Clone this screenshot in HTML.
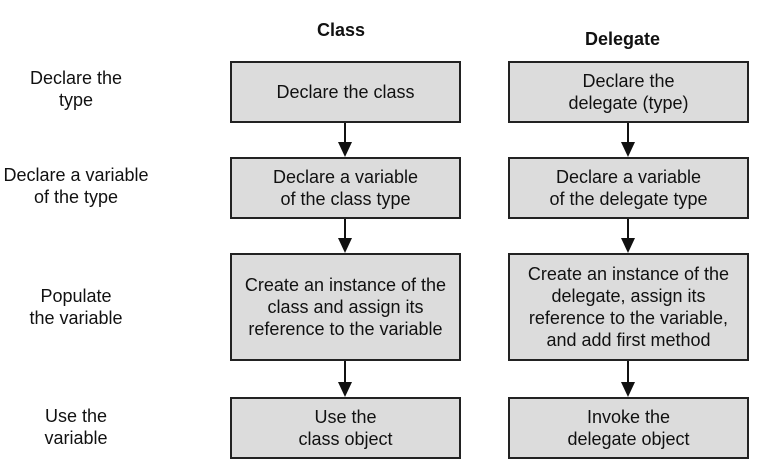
<!DOCTYPE html>
<html><head><style>
body{margin:0;width:764px;height:475px;background:#fff;position:relative;font-family:"Liberation Sans",Arial,sans-serif;color:#111;overflow:hidden}
.b{position:absolute;background:#dcdcdc;border:2px solid #222;box-sizing:border-box;display:flex;align-items:center;justify-content:center;text-align:center;font-size:18px;line-height:22px}
.l{position:absolute;width:200px;text-align:center;font-size:18px;line-height:22px;left:-24px}
.h{position:absolute;font-weight:bold;font-size:18px}
</style></head><body>
<div class="h" style="left:317px;top:20px">Class</div>
<div class="h" style="left:585px;top:29px">Delegate</div>
<div class="l" style="top:67px">Declare the<br>type</div>
<div class="l" style="top:164px">Declare a variable<br>of the type</div>
<div class="l" style="top:285px">Populate<br>the variable</div>
<div class="l" style="top:405px">Use the<br>variable</div>
<div class="b" style="left:230px;top:61px;width:231px;height:62px">Declare the class</div>
<div class="b" style="left:230px;top:157px;width:231px;height:62px">Declare a variable<br>of the class type</div>
<div class="b" style="left:230px;top:253px;width:231px;height:108px">Create an instance of the<br>class and assign its<br>reference to the variable</div>
<div class="b" style="left:230px;top:397px;width:231px;height:62px">Use the<br>class object</div>
<div class="b" style="left:508px;top:61px;width:241px;height:62px">Declare the<br>delegate (type)</div>
<div class="b" style="left:508px;top:157px;width:241px;height:62px">Declare a variable<br>of the delegate type</div>
<div class="b" style="left:508px;top:253px;width:241px;height:108px">Create an instance of the<br>delegate, assign its<br>reference to the variable,<br>and add first method</div>
<div class="b" style="left:508px;top:397px;width:241px;height:62px">Invoke the<br>delegate object</div>
<svg width="764" height="475" style="position:absolute;left:0;top:0">
<g stroke="#111" stroke-width="2">
<line x1="345" y1="123" x2="345" y2="148"/><line x1="345" y1="219" x2="345" y2="244"/><line x1="345" y1="361" x2="345" y2="388"/>
<line x1="628" y1="123" x2="628" y2="148"/><line x1="628" y1="219" x2="628" y2="244"/><line x1="628" y1="361" x2="628" y2="388"/>
</g>
<g fill="#111">
<polygon points="338,142 352,142 345,157"/><polygon points="338,238 352,238 345,253"/><polygon points="338,382 352,382 345,397"/>
<polygon points="621,142 635,142 628,157"/><polygon points="621,238 635,238 628,253"/><polygon points="621,382 635,382 628,397"/>
</g></svg>
</body></html>
